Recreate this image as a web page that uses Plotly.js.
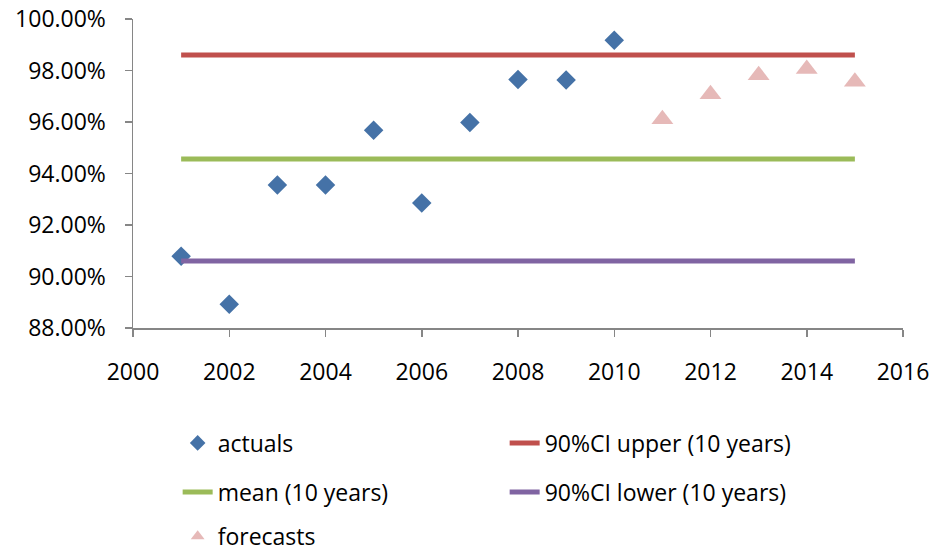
<!DOCTYPE html>
<html>
<head>
<meta charset="utf-8">
<script src="https://cdn.plot.ly/plotly-3.0.1.min.js"></script>
<style>html,body{margin:0;padding:0;background:#fff;}#chart{width:947px;height:551px;}</style>
</head>
<body>
<div id="chart"></div>
<script>
// Data (values in %)
const actualYears = [2001, 2002, 2003, 2004, 2005, 2006, 2007, 2008, 2009, 2010];
const actualValues = [90.79, 88.92, 93.55, 93.55, 95.68, 92.85, 95.98, 97.65, 97.63, 99.17];
const forecastYears = [2011, 2012, 2013, 2014, 2015];
const forecastValues = [96.11, 97.08, 97.82, 98.06, 97.56];
const bandYears = [2001, 2015];
const upperValue = 98.60;
const meanValue = 94.56;
const lowerValue = 90.60;
const xTicks = [2000, 2002, 2004, 2006, 2008, 2010, 2012, 2014, 2016];
const yTicks = [88, 90, 92, 94, 96, 98, 100];

const FONT = '"Open Sans", "Liberation Sans", sans-serif';
const axisColor = '#868686';

const traces = [
  {name: 'actuals', x: actualYears, y: actualValues, type: 'scatter', mode: 'markers',
   marker: {symbol: 'diamond', size: 15, color: '#4572A7'}, legend: 'legend'},
  {name: '90%CI upper (10 years)', x: bandYears, y: bandYears.map(() => upperValue), type: 'scatter', mode: 'lines',
   line: {color: '#C0504D', width: 5}, legend: 'legend'},
  {name: 'mean (10 years)', x: bandYears, y: bandYears.map(() => meanValue), type: 'scatter', mode: 'lines',
   line: {color: '#9BBB59', width: 5}, legend: 'legend2'},
  {name: '90%CI lower (10 years)', x: bandYears, y: bandYears.map(() => lowerValue), type: 'scatter', mode: 'lines',
   line: {color: '#8064A2', width: 5}, legend: 'legend2'},
  {name: 'forecasts', x: forecastYears, y: forecastValues, type: 'scatter', mode: 'markers',
   marker: {symbol: 'triangle-up', size: 19, color: '#E6B9B8'}, legend: 'legend3'}
];

const legendBase = {
  orientation: 'h', xanchor: 'left', yanchor: 'middle', x: 0.058,
  font: {family: FONT, size: 23, color: '#000'}, entrywidth: 282, entrywidthmode: 'pixels',
  itemsizing: 'constant', bgcolor: 'rgba(0,0,0,0)', traceorder: 'normal'
};

const layout = {
  width: 947, height: 551,
  margin: {l: 133, r: 44, t: 19, b: 223, autoexpand: false},
  paper_bgcolor: '#fff', plot_bgcolor: '#fff',
  font: {family: FONT, size: 23, color: '#000'},
  showlegend: true,
  xaxis: {
    range: [2000, 2016], tickvals: xTicks, ticktext: xTicks.map(String),
    showgrid: false, zeroline: false, showline: true, linecolor: axisColor, linewidth: 1.5,
    ticks: 'outside', ticklen: 7, tickcolor: axisColor, tickwidth: 1.5,
    tickfont: {family: FONT, size: 23, color: '#000'}, ticklabelstandoff: 16
  },
  yaxis: {
    range: [88, 100], tickvals: yTicks, ticktext: yTicks.map(v => v.toFixed(2) + '%'),
    showgrid: false, zeroline: false, showline: true, linecolor: axisColor, linewidth: 1.5,
    ticks: 'outside', ticklen: 7, tickcolor: axisColor, tickwidth: 1.5,
    tickfont: {family: FONT, size: 23, color: '#000'}, ticklabelstandoff: 14
  },
  legend: Object.assign({}, legendBase, {y: -0.372}),
  legend2: Object.assign({}, legendBase, {y: -0.531}),
  legend3: Object.assign({}, legendBase, {y: -0.674})
};

Plotly.newPlot('chart', traces, layout, {displayModeBar: false, staticPlot: true});
</script>
</body>
</html>
